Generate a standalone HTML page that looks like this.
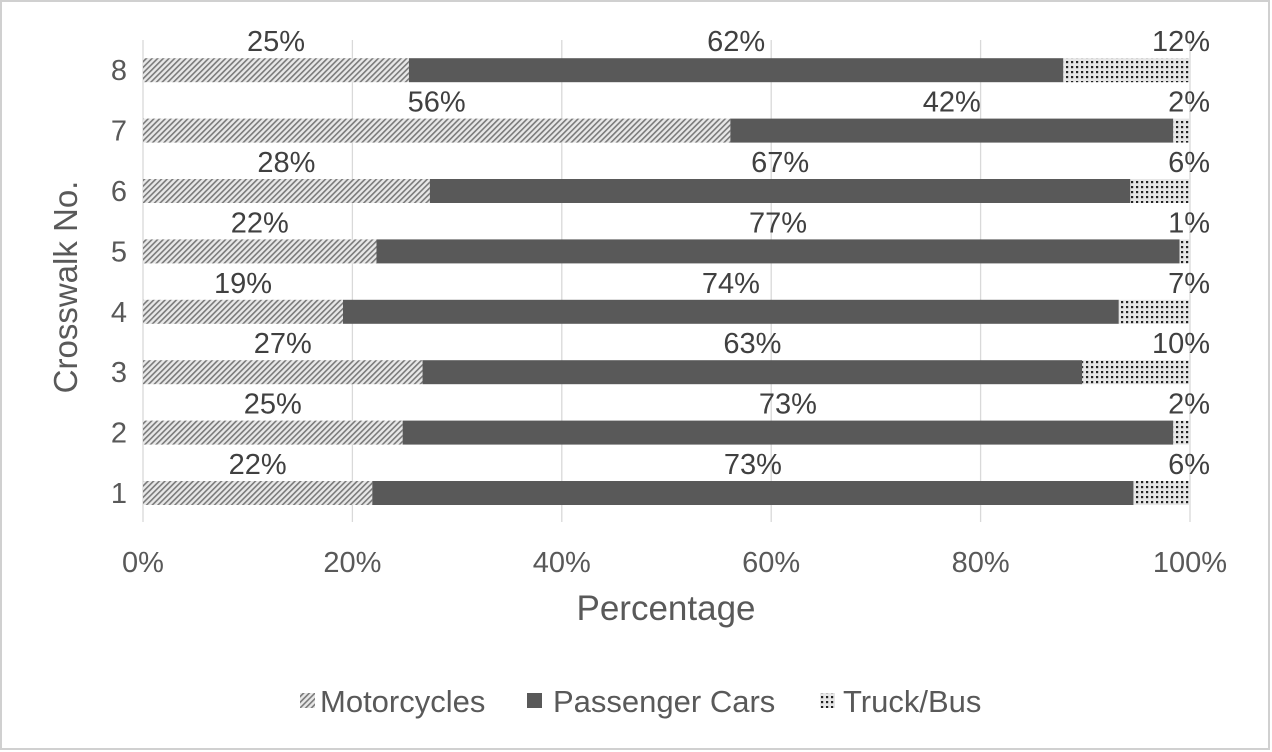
<!DOCTYPE html>
<html><head><meta charset="utf-8"><style>
body{margin:0;background:#fff}
svg{display:block;font-family:"Liberation Sans",Arial,sans-serif}
</style></head><body>
<svg width="1272" height="752" viewBox="0 0 1272 752">
<defs>
<pattern id="diag" width="4" height="4" patternUnits="userSpaceOnUse" patternTransform="rotate(45)">
<rect width="4" height="4" fill="#e8e8e8"/><rect width="1.6" height="4" fill="#7a7a7a"/></pattern>
<pattern id="dots" width="5" height="5" patternUnits="userSpaceOnUse">
<rect width="5" height="5" fill="#e6e6e6"/><rect x="1" y="1" width="2.2" height="2.2" fill="#222"/></pattern>
</defs>
<rect x="1" y="1" width="1268" height="748" fill="#fff" stroke="#d0d0d0" stroke-width="2"/>
<g id="grid"></g><g id="bars"></g><g id="labels"></g>
<text x="0" y="0" transform="translate(77,287) rotate(-90)" text-anchor="middle" font-size="33" fill="#595959">Crosswalk No.</text>
<text x="666" y="620" text-anchor="middle" font-size="35" fill="#595959">Percentage</text>
<g font-size="31" fill="#595959">
<g><rect x="300" y="693" width="15" height="15" fill="url(#diag)"/><text x="320" y="712">Motorcycles</text></g>
<g><rect x="527" y="693" width="15" height="15" fill="#595959"/><text x="553" y="712">Passenger Cars</text></g>
<g><rect x="820" y="693" width="15" height="15" fill="url(#dots)"/><text x="843" y="712">Truck/Bus</text></g>
</g>
</svg>
<script>
const categories=["1","2","3","4","5","6","7","8"];
const moto=[21.9,24.8,26.7,19.1,22.3,27.4,56.1,25.4];
const cars=[72.7,73.6,63.0,74.1,76.7,66.9,42.3,62.5];
const truck=[5.4,1.6,10.3,6.8,1.0,5.7,1.6,12.1];
const motoLbl=["22%","25%","27%","19%","22%","28%","56%","25%"];
const carsLbl=["73%","73%","63%","74%","77%","67%","42%","62%"];
const truckLbl=["6%","2%","10%","7%","1%","6%","2%","12%"];
const xTicks=[0,20,40,60,80,100];
const NS="http://www.w3.org/2000/svg";
const X0=143,X1=1190;
const x=v=>X0+(X1-X0)*v/100;
const y=i=>493-i*60.4;
function mk(tag,attrs,parent){const e=document.createElementNS(NS,tag);for(const k in attrs)e.setAttribute(k,attrs[k]);parent.appendChild(e);return e;}
const g=document.getElementById('grid'),b=document.getElementById('bars'),l=document.getElementById('labels');
xTicks.forEach(t=>{
 const ln=mk('line',{x1:x(t),x2:x(t),y1:40,y2:522,stroke:'#d9d9d9','stroke-width':1.3},g);
 
 
 const tx=mk('text',{x:x(t),y:572,'text-anchor':'middle','font-size':29,fill:'#595959'},g);
 tx.textContent=t+'%';
 
 
});
categories.forEach((c,i)=>{
 const cy=y(i);
 const ct=mk('text',{x:127,y:cy+10,'text-anchor':'end','font-size':29,fill:'#595959'},l);
 ct.textContent=c;
 
 
 const segs=[[0,moto[i],'url(#diag)',motoLbl[i],'motorcycles'],[moto[i],moto[i]+cars[i],'#595959',carsLbl[i],'passenger-cars'],[moto[i]+cars[i],moto[i]+cars[i]+truck[i],'url(#dots)',truckLbl[i],'truck-bus']];
 segs.forEach((s,j)=>{
  const r=mk('rect',{x:x(s[0]),y:cy-12,width:x(s[1])-x(s[0]),height:24,fill:s[2]},b);
  
  
  const lx=(x(s[0])+x(s[1]))/2;
  const t=mk('text',{x:j===2?1210:lx,y:cy-19,'text-anchor':j===2?'end':'middle','font-size':29,fill:'#404040'},l);
  t.textContent=s[3];
  
  
 });
});
</script>
</body></html>
